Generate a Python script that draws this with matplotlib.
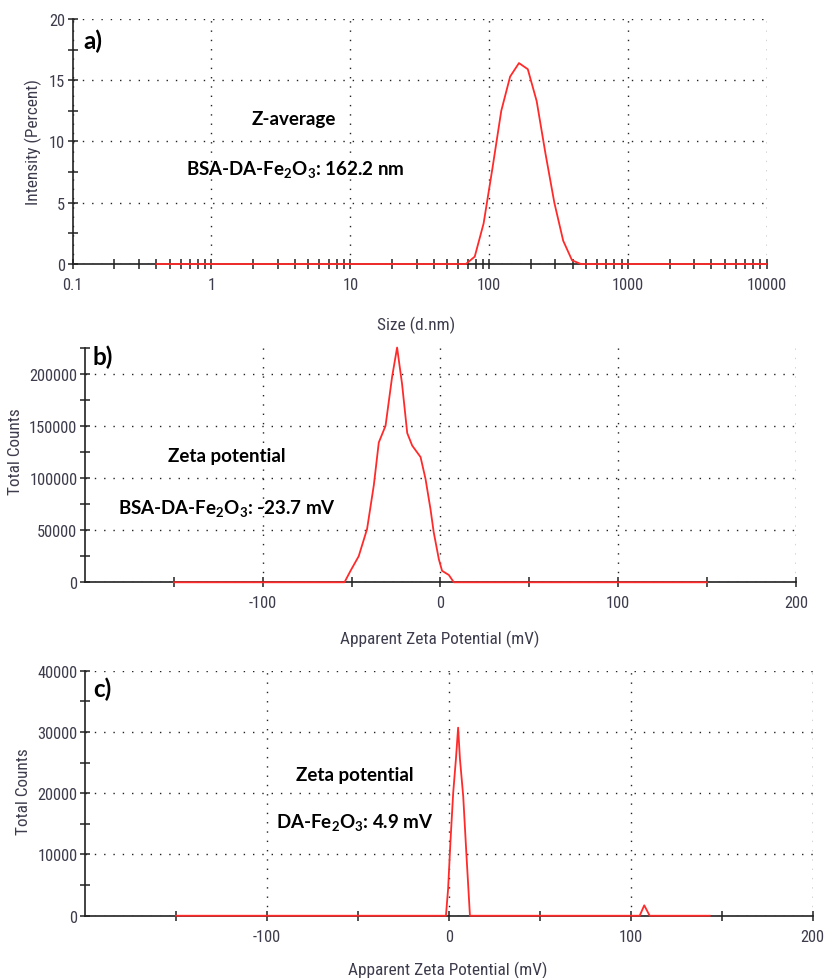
import matplotlib
matplotlib.use('Agg')
from matplotlib import pyplot as plt
from matplotlib import font_manager
from matplotlib.ticker import FixedLocator, NullFormatter
import numpy as np

# (a) DLS size distribution
size_nm = [0.4, 58.77, 68.06, 78.82, 91.28, 105.7, 122.4, 141.8, 164.2, 190.1,
           220.2, 255.0, 295.3, 342.0, 396.1, 458.7, 10000]
intensity = [0, 0, 0, 0.6, 3.3, 7.8, 12.5, 15.3, 16.4, 15.9,
             13.3, 9.0, 5.0, 1.9, 0.3, 0, 0]

# (b) zeta potential, BSA-DA-Fe2O3
zeta_b = [-150, -54.0, -50.6, -46.0, -41.3, -37.5, -34.7, -30.9, -27.2, -24.4,
          -21.6, -18.7, -15.9, -11.2, -8.4, -5.6, -3.8, -0.9, 0.9, 4.7, 7.5, 150]
counts_b = [0, 0, 11000, 25000, 51000, 93000, 134000, 150000, 197000, 225000,
            190000, 143000, 131000, 120000, 99000, 70000, 48000, 22000, 11000, 7000, 0, 0]

# (c) zeta potential, DA-Fe2O3
zeta_c = [-150, -1.6, -0.4, 0.9, 2.4, 3.9, 5.1, 6.1, 7.9, 9.7, 11.6,
          104.9, 107.4, 110.4, 143.4]
counts_c = [0, 0, 4400, 12200, 20100, 25600, 30700, 25600, 19500, 9800, 0,
            0, 1700, 0, 0]

# narrow sans for the instrument-style labels, if one is around
installed = {f.name for f in font_manager.fontManager.ttflist}
tick_font, tick_size = 'Liberation Sans', 10.5
for fam, sz in [('Liberation Sans Narrow', 12.5), ('Roboto Condensed', 11.8),
                ('DejaVu Sans Condensed', 10.8)]:
    if fam in installed:
        tick_font, tick_size = fam, sz
        break
label_size = tick_size + 0.6

note_font = 'Lato'
txt_col = '#3c3c4c'
plt.rcParams['axes.unicode_minus'] = False
plt.rcParams['mathtext.fontset'] = 'custom'
plt.rcParams['mathtext.rm'] = 'Lato'
plt.rcParams['mathtext.bf'] = 'Lato:bold'

fig = plt.figure(figsize=(8.25, 9.79), dpi=100)
ax_a = fig.add_axes([0.0881, 0.7293, 0.8412, 0.2503])
ax_b = fig.add_axes([0.1030, 0.4042, 0.8618, 0.2398])
ax_c = fig.add_axes([0.1030, 0.0636, 0.8821, 0.2503])


def style(ax):
    for s in ['top', 'right']:
        ax.spines[s].set_visible(False)
    for s in ['left', 'bottom']:
        ax.spines[s].set_color('#222222')
        ax.spines[s].set_linewidth(1.2)
    ax.tick_params(which='both', direction='inout', length=7, width=1.1,
                   color='#222222', labelcolor=txt_col)
    ax.tick_params(axis='x', which='major', pad=6)
    ax.tick_params(axis='y', which='major', pad=2)
    for lab in ax.get_xticklabels() + ax.get_yticklabels():
        lab.set_family(tick_font)
        lab.set_fontsize(tick_size)
    ax.grid(True, which='major', color='#222222', linestyle=(0, (1, 5.7)), linewidth=1.0)
    ax.set_axisbelow(True)


def labels(ax, xlab, ylab, xpos, ypos):
    ax.set_xlabel(xlab, family=tick_font, fontsize=label_size, color=txt_col)
    ax.set_ylabel(ylab, family=tick_font, fontsize=label_size, color=txt_col)
    ax.xaxis.set_label_coords(*xpos)
    ax.yaxis.set_label_coords(*ypos)
    ax.xaxis.label.set_va('center')
    ax.yaxis.label.set_va('center')


# panel a
ax_a.set_xscale('log')
ax_a.plot(size_nm, intensity, color='#ff2a2a', lw=1.3, clip_on=False, zorder=3)
ax_a.set_xlim(0.1, 10000)
ax_a.set_ylim(0, 20)
ax_a.set_xticks([0.1, 1, 10, 100, 1000, 10000])
ax_a.set_xticklabels(['0.1', '1', '10', '100', '1000', '10000'])
ax_a.xaxis.set_minor_locator(matplotlib.ticker.LogLocator(subs=np.arange(2, 10), numticks=20))
ax_a.xaxis.set_minor_formatter(NullFormatter())
ax_a.set_yticks([0, 5, 10, 15, 20])
ax_a.yaxis.set_minor_locator(FixedLocator([2.5, 7.5, 12.5, 17.5]))
style(ax_a)
labels(ax_a, 'Size (d.nm)', 'Intensity (Percent)', (0.495, -0.245), (-0.057, 0.5))
ax_a.text(0.015, 0.914, 'a)', transform=ax_a.transAxes, family=note_font,
          weight='bold', fontsize=17.5, va='center', ha='left')
ax_a.text(0.319, 0.592, 'Z-average', transform=ax_a.transAxes, family=note_font,
          weight='bold', fontsize=13.5, va='center', ha='center')
ax_a.text(0.32, 0.388, r'BSA-DA-Fe$\mathbf{_2}$O$\mathbf{_3}$: 162.2 nm', transform=ax_a.transAxes,
          family=note_font, weight='bold', fontsize=13.5, va='center', ha='center')

# panel b
ax_b.plot(zeta_b, counts_b, color='#ff2a2a', lw=1.3, clip_on=False, zorder=3)
ax_b.set_xlim(-200, 200)
ax_b.set_ylim(0, 225000)
ax_b.set_xticks([-100, 0, 100, 200])
ax_b.xaxis.set_minor_locator(FixedLocator([-150, -50, 50, 150]))
ax_b.set_yticks([0, 50000, 100000, 150000, 200000])
ax_b.yaxis.set_minor_locator(FixedLocator([25000, 75000, 125000, 175000, 225000]))
style(ax_b)
labels(ax_b, 'Apparent Zeta Potential (mV)', 'Total Counts', (0.499, -0.241), (-0.098, 0.559))
ax_b.text(0.011, 0.963, 'b)', transform=ax_b.transAxes, family=note_font,
          weight='bold', fontsize=17.5, va='center', ha='left')
ax_b.text(0.2, 0.539, 'Zeta potential', transform=ax_b.transAxes, family=note_font,
          weight='bold', fontsize=13.5, va='center', ha='center')
ax_b.text(0.2, 0.32, r'BSA-DA-Fe$\mathbf{_2}$O$\mathbf{_3}$: -23.7 mV', transform=ax_b.transAxes,
          family=note_font, weight='bold', fontsize=13.5, va='center', ha='center')

# panel c
ax_c.plot(zeta_c, counts_c, color='#ff2a2a', lw=1.3, clip_on=False, zorder=3)
ax_c.set_xlim(-200, 200)
ax_c.set_ylim(0, 40000)
ax_c.set_xticks([-100, 0, 100, 200])
ax_c.xaxis.set_minor_locator(FixedLocator([-150, -50, 50, 150]))
ax_c.set_yticks([0, 10000, 20000, 30000, 40000])
ax_c.yaxis.set_minor_locator(FixedLocator([5000, 15000, 25000, 35000]))
style(ax_c)
labels(ax_c, 'Apparent Zeta Potential (mV)', 'Total Counts', (0.499, -0.218), (-0.085, 0.509))
ax_c.text(0.011, 0.929, 'c)', transform=ax_c.transAxes, family=note_font,
          weight='bold', fontsize=17.5, va='center', ha='left')
ax_c.text(0.371, 0.578, 'Zeta potential', transform=ax_c.transAxes, family=note_font,
          weight='bold', fontsize=13.5, va='center', ha='center')
ax_c.text(0.371, 0.383, r'DA-Fe$\mathbf{_2}$O$\mathbf{_3}$: 4.9 mV', transform=ax_c.transAxes,
          family=note_font, weight='bold', fontsize=13.5, va='center', ha='center')

fig.savefig('out.png', dpi=100)
